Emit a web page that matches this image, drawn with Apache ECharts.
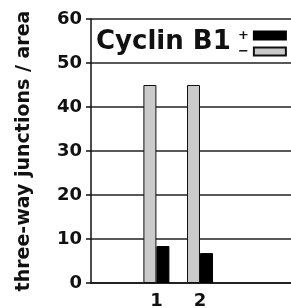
<!DOCTYPE html>
<html>
<head>
<meta charset="utf-8">
<script src="https://cdn.jsdelivr.net/npm/echarts@6/dist/echarts.min.js"></script>
<style>
  html, body { margin: 0; padding: 0; background: #fff; }
  #main { width: 291px; height: 308px; }
</style>
</head>
<body>
<div id="main"></div>
<script>
// categories on the x axis (empty slots keep the bars where the figure has them)
var categories = ['', '1', '2', '', ''];
// Cyclin B1 minus (gray) and plus (black)
var minusValues = ['-', 45, 45, '-', '-'];
var plusValues = ['-', 8.4, 6.8, '-', '-'];
var yTicks = [0, 10, 20, 30, 40, 50, 60];

var font = 'DejaVu Sans';
var myChart = echarts.init(document.getElementById('main'));

var option = {
    animation: false,
    title: {
        text: 'Cyclin B1',
        left: 96,
        top: 29,
        padding: 0,
        textStyle: { fontFamily: font, fontWeight: 'bold', fontSize: 26, color: '#111' }
    },
    legend: {
        orient: 'vertical',
        left: 238,
        top: 29,
        padding: 0,
        align: 'right',
        itemWidth: 32,
        itemHeight: 8,
        itemGap: 3,
        icon: 'rect',
        data: ['+', '\u2212'],
        textStyle: { fontFamily: font, fontWeight: 'bold', fontSize: 13, lineHeight: 8, color: '#111' }
    },
    grid: {
        left: 91,
        top: 19,
        bottom: 25,
        right: -18,
        outerBoundsMode: 'none'
    },
    xAxis: {
        type: 'category',
        data: categories,
        axisLine: { lineStyle: { color: '#111', width: 1.5 } },
        axisTick: {
            length: 5,
            lineStyle: { color: '#111', width: 1.5 },
            interval: function (i) { return i === 2; }
        },
        axisLabel: {
            margin: 9,
            fontFamily: font, fontWeight: 'bold', fontSize: 18, color: '#111'
        }
    },
    yAxis: {
        type: 'value',
        min: yTicks[0],
        max: yTicks[yTicks.length - 1],
        interval: 10,
        name: 'three-way junctions / area',
        nameLocation: 'middle',
        nameGap: 57,
        nameTextStyle: { fontFamily: font, fontWeight: 'bold', fontSize: 19, color: '#111' },
        axisLine: { show: true, lineStyle: { color: '#111', width: 1.5 } },
        axisTick: { show: true, length: 5, lineStyle: { color: '#111', width: 1.5 } },
        axisLabel: {
            margin: 9,
            fontFamily: font, fontWeight: 'bold', fontSize: 18, color: '#111'
        },
        splitLine: { lineStyle: { color: '#222', width: 1.5 } }
    },
    series: [
        {
            name: '\u2212',
            type: 'bar',
            data: minusValues,
            barWidth: 13,
            barGap: '0%',
            itemStyle: { color: '#cacaca', borderColor: '#111', borderWidth: 1 }
        },
        {
            name: '+',
            type: 'bar',
            data: plusValues,
            barWidth: 13,
            barGap: '0%',
            itemStyle: { color: '#000', borderColor: '#000', borderWidth: 1 }
        }
    ]
};
myChart.setOption(option);
</script>
</body>
</html>
